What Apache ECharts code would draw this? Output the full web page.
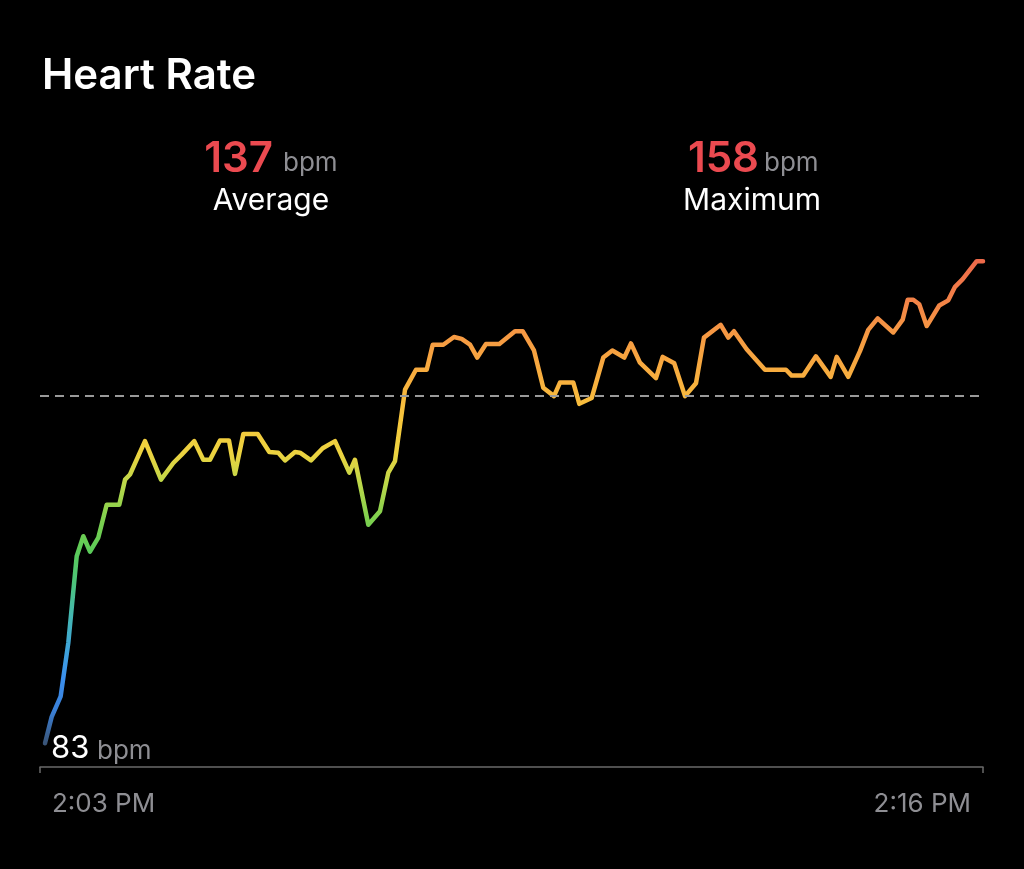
<!DOCTYPE html>
<html>
<head>
<meta charset="utf-8">
<script src="https://cdn.jsdelivr.net/npm/echarts@6/dist/echarts.min.js"></script>
<style>
html,body{margin:0;padding:0;background:#000;}
#chart{width:1024px;height:869px;}
</style>
</head>
<body>
<div id="chart"></div>
<script>
// Minutes after 2:03 PM
var minutes = [0.069,0.161,0.285,0.390,0.506,0.597,0.689,0.804,0.919,1.093,1.172,1.241,1.447,1.668,1.838,1.953,2.127,2.251,2.344,2.481,2.605,2.688,2.803,3.001,3.161,3.285,3.377,3.515,3.584,3.736,3.897,4.067,4.264,4.342,4.526,4.687,4.802,4.894,5.032,5.183,5.331,5.414,5.560,5.707,5.813,5.928,6.028,6.148,6.332,6.548,6.654,6.810,6.938,7.086,7.168,7.352,7.435,7.605,7.765,7.890,8.055,8.147,8.271,8.492,8.584,8.744,8.892,9.043,9.153,9.384,9.489,9.567,9.742,9.994,10.284,10.362,10.522,10.697,10.900,10.983,11.143,11.304,11.418,11.548,11.763,11.893,11.962,12.039,12.121,12.224,12.397,12.521,12.614,12.720,12.913,13.0];
var bpm = [83,87.1,90.3,98.6,112.1,115.2,112.8,115.0,120.1,120.1,124.0,124.8,130.0,124.0,126.6,127.9,130.0,127.1,127.1,130.1,130.1,124.9,131.1,131.1,128.3,128.2,127.0,128.3,128.2,127.0,128.9,130.0,125.1,127.1,117.0,119.1,125.1,126.9,138.0,141.1,141.1,145.0,145.0,146.2,145.9,145.0,143.0,145.1,145.1,147.1,147.1,144.1,138.3,137.0,139.1,139.1,135.8,136.7,143.0,144.1,143.0,145.2,142.2,139.8,143.1,142.1,137.0,139.0,146.1,148.1,146.1,147.1,144.3,141.1,141.1,140.2,140.2,143.2,140.0,143.1,140.0,144.0,147.3,149.1,146.9,148.9,152.0,152.0,151.3,147.9,151.1,151.9,154.0,155.2,158.0,158.0];
var timeLabels = ['2:03 PM','2:16 PM'];
var title = 'Heart Rate';
var avgValue = 137, maxValue = 158, minValue = 83;
var avgLabel = 'Average', maxLabel = 'Maximum', unit = 'bpm';

var seriesData = minutes.map(function(m,i){ return [m, bpm[i]]; });
var FONT = 'Inter, "Noto Sans", sans-serif';
var chart = echarts.init(document.getElementById('chart'));
chart.setOption({
  backgroundColor: '#000',
  animation: false,
  grid: {left: 40, right: 41, top: 229, bottom: 102},
  xAxis: {
    type: 'value', min: 0, max: 13, interval: 13,
    splitLine: {show: false},
    axisLine: {show: true, lineStyle: {color: '#6a6a6a', width: 1.5}},
    axisTick: {show: true, length: 6, lineStyle: {color: '#6a6a6a', width: 1.5}},
    axisLabel: {
      margin: 24, alignMinLabel: 'left', alignMaxLabel: 'right',
      formatter: function(v){ return v === 0 ? '{l|' + timeLabels[0] + '}' : '{r|' + timeLabels[1] + '}'; },
      rich: {
        l: {padding: [0,0,0,12], color: '#8e8e93', fontSize: 26, fontFamily: FONT},
        r: {padding: [0,12,0,0], color: '#8e8e93', fontSize: 26, fontFamily: FONT}
      }
    }
  },
  yAxis: {type: 'value', min: 79.3, max: 163, show: false, splitLine: {show: false}},
  visualMap: {
    type: 'continuous', show: false, dimension: 1, seriesIndex: 0,
    min: 83, max: 158,
    inRange: {color: ['#3a5578','#3a7fd6','#3b8fee','#3fa5d8','#44b8b0','#4cc47a','#5ccb58','#7fd04e','#b8d84a','#ecd340','#f7c83c','#f8b53e','#f7a540','#f59444','#f27e48','#ee6a4a']}
  },
  series: [{
    type: 'line', data: seriesData, showSymbol: false, smooth: false,
    lineStyle: {width: 4.5, cap: 'round', join: 'round'},
    markLine: {
      silent: true, symbol: 'none', label: {show: false},
      lineStyle: {color: '#9a9a9a', type: [9, 6], width: 2},
      data: [{yAxis: avgValue}]
    }
  }],
  graphic: [
    {type: 'text', left: 42, top: 55, style: {text: title, fill: '#fff', font: '600 42px ' + FONT}},
    {type: 'text', x: 273, y: 159, style: {text: String(avgValue), fill: '#eb4a50', font: '600 42px ' + FONT, align: 'right', verticalAlign: 'middle'}},
    {type: 'text', x: 283, y: 163, style: {text: unit, fill: '#8e8e93', font: '400 26px ' + FONT, align: 'left', verticalAlign: 'middle'}},
    {type: 'text', x: 271, y: 201, style: {text: avgLabel, fill: '#fff', font: '400 30px ' + FONT, align: 'center', verticalAlign: 'middle'}},
    {type: 'text', x: 759, y: 159, style: {text: String(maxValue), fill: '#eb4a50', font: '600 42px ' + FONT, align: 'right', verticalAlign: 'middle'}},
    {type: 'text', x: 764, y: 163, style: {text: unit, fill: '#8e8e93', font: '400 26px ' + FONT, align: 'left', verticalAlign: 'middle'}},
    {type: 'text', x: 752, y: 201, style: {text: maxLabel, fill: '#fff', font: '400 30px ' + FONT, align: 'center', verticalAlign: 'middle'}},
    {type: 'text', x: 51, y: 749, style: {text: String(minValue), fill: '#fff', font: '400 31px ' + FONT, align: 'left', verticalAlign: 'middle'}},
    {type: 'text', x: 97, y: 751, style: {text: unit, fill: '#8e8e93', font: '400 26px ' + FONT, align: 'left', verticalAlign: 'middle'}}
  ]
});
</script>
</body>
</html>
